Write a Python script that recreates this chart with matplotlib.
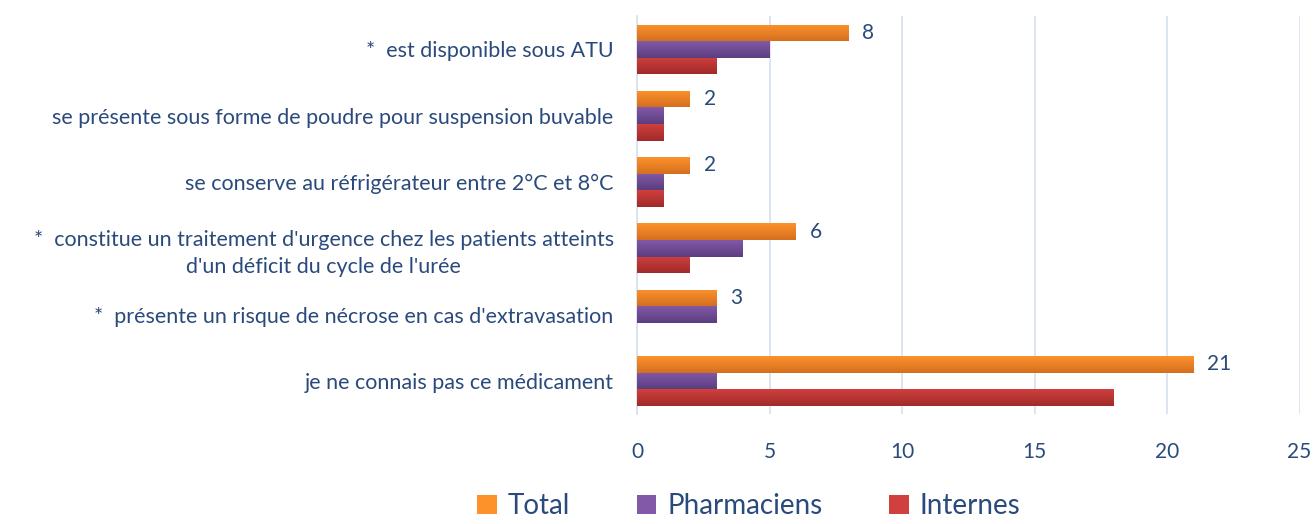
import numpy as np
import matplotlib
matplotlib.use('Agg')
import matplotlib.pyplot as plt
from matplotlib.colors import LinearSegmentedColormap
from matplotlib.patches import Patch

plt.rcParams['font.family'] = ['Lato', 'DejaVu Sans']

categories = [
    "*  est disponible sous ATU",
    "se présente sous forme de poudre pour suspension buvable",
    "se conserve au réfrigérateur entre 2°C et 8°C",
    "*  constitue un traitement d'urgence chez les patients atteints\nd'un déficit du cycle de l'urée",
    "*  présente un risque de nécrose en cas d'extravasation",
    "je ne connais pas ce médicament",
]
series_names = ["Total", "Pharmaciens", "Internes"]
total = [8, 2, 2, 6, 3, 21]
pharmaciens = [5, 1, 1, 4, 3, 3]
internes = [3, 1, 1, 2, 0, 18]
xticks = [0, 5, 10, 15, 20, 25]

text_color = '#2a4a7c'
grid_color = '#d5e0ee'
# (top colour, bottom colour) for each series gradient
gradients = [('#fd922b', '#d46f1f'), ('#8159a8', '#5c3e7f'), ('#d0403e', '#a02a2a')]

fig = plt.figure(figsize=(13.14, 5.24), dpi=100)
ax = fig.add_axes([0.485, 0.21, 0.504, 0.759])

y = np.arange(len(categories))
h = 0.25
offsets = [-h, 0, h]
values = [total, pharmaciens, internes]

for vals, off, (c_top, c_bot) in zip(values, offsets, gradients):
    bars = ax.barh(y + off, vals, height=h, color=c_top, zorder=3)
    cmap = LinearSegmentedColormap.from_list('g', [c_top, c_bot])
    grad = np.linspace(0, 1, 64).reshape(-1, 1)
    for b in bars:
        w = b.get_width()
        if w <= 0:
            continue
        x0, y0 = b.get_x(), b.get_y()
        im = ax.imshow(grad, cmap=cmap, aspect='auto', zorder=4,
                       extent=[x0, x0 + w, y0 + b.get_height(), y0],
                       origin='upper')
        im.set_clip_path(b)

for yi, v in zip(y, total):
    ax.text(v + 0.5, yi - h, str(v), va='center', ha='left',
            fontsize=15, color=text_color, zorder=5)

ax.set_xlim(0, 25)
ax.set_ylim(len(categories) - 0.5, -0.5)
ax.set_xticks(xticks)
ax.set_yticks(y)
ax.set_yticklabels(categories, multialignment='center', linespacing=1.4)
ax.tick_params(axis='y', length=0, pad=17, labelsize=15.5, labelcolor=text_color)
ax.tick_params(axis='x', length=0, pad=20, labelsize=15, labelcolor=text_color)
ax.grid(axis='x', color=grid_color, linewidth=1.2, zorder=0)
for s in ['top', 'right', 'bottom']:
    ax.spines[s].set_visible(False)
ax.spines['left'].set_color(grid_color)
ax.spines['left'].set_linewidth(1.2)

handles = [Patch(facecolor=c[0]) for c in gradients]
fig.legend(handles, series_names, loc='center', bbox_to_anchor=(749 / 1314, 1 - 506 / 524),
           ncol=3, frameon=False, fontsize=20, labelcolor=text_color,
           handlelength=0.7, handleheight=0.7, handletextpad=0.4, columnspacing=2.4)

fig.savefig('out.png', dpi=100)
